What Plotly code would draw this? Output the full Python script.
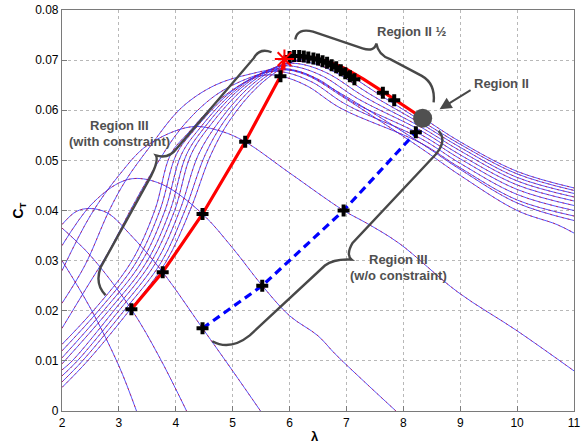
import plotly.graph_objects as go

# ---------------- data ----------------
# family of C_T(lambda) curves, low pitch (k0) -> higher pitch
bundle_lam = [
    [2.0, 2.45, 3.18, 3.82, 4.25, 4.62, 4.95, 5.45, 5.95, 6.25, 6.55, 7.0, 7.6, 8.34, 9.0, 10.0, 11.0],
    [2.0, 2.36, 3.09, 3.74, 4.16, 4.52, 4.85, 5.35, 5.85, 6.15, 6.45, 6.9, 7.5, 8.3, 9.0, 10.0, 11.0],
    [2.0, 2.27, 3.0, 3.65, 4.07, 4.40, 4.75, 5.25, 5.75, 6.05, 6.35, 6.8, 7.4, 8.3, 9.0, 10.0, 11.0],
    [2.0, 2.18, 2.91, 3.56, 3.98, 4.27, 4.62, 5.15, 5.65, 5.95, 6.25, 6.7, 7.3, 8.3, 9.0, 10.0, 11.0],
    [2.0, 2.82, 3.48, 3.90, 4.19, 4.52, 5.05, 5.55, 5.85, 6.15, 6.6, 7.2, 8.3, 9.0, 10.0, 11.0],
    [2.0, 2.73, 3.39, 3.81, 4.10, 4.42, 4.95, 5.45, 5.75, 6.05, 6.5, 7.1, 8.3, 9.0, 10.0, 11.0],
    [2.0, 2.64, 3.30, 3.72, 4.01, 4.32, 4.85, 5.35, 5.65, 5.95, 6.4, 7.0, 8.3, 9.0, 10.0, 11.0],
    [2.0, 2.55, 3.21, 3.63, 3.91, 4.22, 4.75, 5.25, 5.55, 5.85, 6.3, 6.9, 8.3, 9.0, 10.0, 11.0],
    [2.0, 2.4, 2.83, 3.2, 3.6, 4.1, 4.7, 5.3, 5.8, 6.2, 6.8, 8.3, 9.0, 10.0, 11.0],
    [2.0, 2.4, 2.83, 3.12, 3.53, 4.1, 4.69, 5.3, 5.84, 6.3, 7.0, 8.3, 9.0, 10.0, 10.7, 11.0],
]
bundle_ct = [
    [0.0047, 0.0100, 0.0200, 0.0296, 0.0400, 0.0512, 0.0580, 0.0648, 0.0690, 0.0704, 0.0703, 0.0683, 0.0641, 0.0585, 0.0537, 0.0478, 0.0445],
    [0.0058, 0.0100, 0.0200, 0.0296, 0.0400, 0.0512, 0.0578, 0.0645, 0.0687, 0.0700, 0.0699, 0.0680, 0.0637, 0.0580, 0.0532, 0.0473, 0.0440],
    [0.0070, 0.0100, 0.0200, 0.0296, 0.0400, 0.0512, 0.0576, 0.0642, 0.0684, 0.0697, 0.0695, 0.0676, 0.0633, 0.0574, 0.0526, 0.0466, 0.0434],
    [0.0082, 0.0100, 0.0200, 0.0296, 0.0400, 0.0512, 0.0572, 0.0639, 0.0680, 0.0693, 0.0691, 0.0672, 0.0628, 0.0567, 0.0519, 0.0459, 0.0427],
    [0.0094, 0.0200, 0.0296, 0.0400, 0.0512, 0.0568, 0.0635, 0.0676, 0.0688, 0.0686, 0.0667, 0.0623, 0.0560, 0.0511, 0.0451, 0.0419],
    [0.0106, 0.0200, 0.0296, 0.0400, 0.0512, 0.0564, 0.0630, 0.0671, 0.0683, 0.0681, 0.0662, 0.0617, 0.0552, 0.0503, 0.0442, 0.0410],
    [0.0120, 0.0200, 0.0296, 0.0400, 0.0512, 0.0560, 0.0625, 0.0665, 0.0677, 0.0675, 0.0656, 0.0611, 0.0544, 0.0494, 0.0432, 0.0400],
    [0.0133, 0.0200, 0.0296, 0.0400, 0.0512, 0.0555, 0.0619, 0.0658, 0.0670, 0.0668, 0.0649, 0.0604, 0.0535, 0.0485, 0.0421, 0.0389],
    [0.0165, 0.0240, 0.0320, 0.0400, 0.0480, 0.0565, 0.0630, 0.0665, 0.0680, 0.0676, 0.0640, 0.0535, 0.0482, 0.0415, 0.0380],
    [0.0215, 0.0290, 0.0400, 0.0460, 0.0525, 0.0605, 0.0650, 0.0672, 0.0682, 0.0670, 0.0622, 0.0525, 0.0470, 0.0400, 0.0372, 0.0355],
]
# high-pitch curves that fall off to zero
desc_lam = [
    [2.0, 2.5, 3.0, 3.31],
    [2.0, 2.5, 3.22, 3.7, 4.19],
    [2.0, 2.25, 2.49, 2.8, 3.2, 3.77, 4.47, 5.0, 5.49],
    [2.0, 2.5, 3.0, 3.32, 3.8, 4.47, 5.0, 5.52, 6.0, 6.5, 6.8, 7.3, 7.87],
    [2.0, 2.5, 3.0, 3.5, 4.27, 4.8, 5.22, 6.0, 6.95, 7.35, 7.92, 8.96, 10.0, 11.0],
]
desc_ct = [
    [0.0300, 0.0205, 0.0090, 0.0],
    [0.0365, 0.0310, 0.0203, 0.0110, 0.0],
    [0.0372, 0.0398, 0.0404, 0.0395, 0.0352, 0.0277, 0.0165, 0.0080, 0.0],
    [0.0330, 0.0410, 0.0455, 0.0464, 0.0450, 0.0393, 0.0325, 0.0250, 0.0190, 0.0150, 0.0114, 0.0060, 0.0],
    [0.0280, 0.0390, 0.0470, 0.0530, 0.0567, 0.0558, 0.0537, 0.0475, 0.0400, 0.0375, 0.0335, 0.0237, 0.0160, 0.0080],
]
# constrained trajectory (red)
red_lam = [3.22, 3.77, 4.47, 5.22, 5.84, 5.91, 6.0, 6.2, 6.5, 6.8, 7.0, 7.3, 7.6, 8.0, 8.34]
red_ct = [0.0203, 0.0277, 0.0393, 0.0537, 0.0668, 0.0702, 0.0706, 0.0708, 0.0703, 0.0692, 0.0682, 0.0662, 0.0640, 0.0610, 0.0584]
# unconstrained trajectory (blue dashed)
blue_lam = [4.47, 5.52, 6.95, 8.22, 8.34]
blue_ct = [0.0165, 0.0250, 0.0400, 0.0556, 0.0584]
# black + markers
plus_lam = [3.22, 3.77, 4.47, 5.22, 5.84, 6.0, 6.08, 6.17, 6.25, 6.33, 6.42, 6.5, 6.58, 6.66, 6.74, 6.82,
            6.9, 6.98, 7.06, 7.14, 7.64, 7.84, 4.47, 5.52, 6.95, 8.22]
plus_ct = [0.0203, 0.0277, 0.0393, 0.0537, 0.0668, 0.0706, 0.0708, 0.0708, 0.0707, 0.0705, 0.0703, 0.0701,
           0.0698, 0.0695, 0.0690, 0.0686, 0.0680, 0.0674, 0.0668, 0.0662, 0.0635, 0.0620, 0.0165, 0.0250,
           0.0400, 0.0556]
star_lam = [5.91]
star_ct = [0.0702]
dot_lam = [8.34]
dot_ct = [0.0584]

x_ticks = [2, 3, 4, 5, 6, 7, 8, 9, 10, 11]
y_ticks = [0, 0.01, 0.02, 0.03, 0.04, 0.05, 0.06, 0.07, 0.08]

# ---------------- figure ----------------
W, H = 584, 448
ML, MR, MT, MB = 62, 4, 3, 37
X0, X1, Y0, Y1 = 2, 11, 0, 0.08
PW, PH = W - ML - MR, H - MT - MB


def P(px, py):
    """pixel (page) -> data coordinates, for decorations only"""
    return X0 + (px - ML) / PW * (X1 - X0), Y0 + (H - MB - py) / PH * (Y1 - Y0)


def path(cmds):
    out = []
    for c in cmds:
        op, pts = c[0], c[1:]
        s = " ".join("%.5f,%.6f" % P(*p) for p in pts)
        out.append(op + " " + s)
    return " ".join(out)


fig = go.Figure()

for lams, cts in list(zip(bundle_lam, bundle_ct)) + list(zip(desc_lam, desc_ct)):
    fig.add_trace(go.Scatter(x=lams, y=cts, mode="lines", line=dict(color="#2a2aff", width=0.8, shape="spline", smoothing=1.0),
                             hoverinfo="skip", showlegend=False))
    fig.add_trace(go.Scatter(x=lams, y=cts, mode="lines", line=dict(color="rgba(240,0,0,0.8)", width=0.8, shape="spline",
                                                                    smoothing=1.0, dash="2px,4px"),
                             hoverinfo="skip", showlegend=False))

fig.add_trace(go.Scatter(x=red_lam, y=red_ct, mode="lines", line=dict(color="#ff0000", width=3.2),
                         showlegend=False))
fig.add_trace(go.Scatter(x=blue_lam, y=blue_ct, mode="lines", line=dict(color="#0000ff", width=3.2, dash="8px,5px"),
                         showlegend=False))
fig.add_trace(go.Scatter(x=plus_lam, y=plus_ct, mode="markers",
                         marker=dict(symbol="cross", size=10, color="black"), showlegend=False))
fig.add_trace(go.Scatter(x=star_lam, y=star_ct, mode="markers",
                         marker=dict(symbol="asterisk-open", size=16, color="red", line=dict(color="red", width=2)),
                         showlegend=False))
fig.add_trace(go.Scatter(x=dot_lam, y=dot_ct, mode="markers",
                         marker=dict(symbol="circle", size=19, color="#505050"), showlegend=False))

brace_col = "#484848"
braces = [
    # Region III (with constraint)
    [("M", (106, 293)), ("Q", (95, 282), (101, 265)), ("L", (152, 172)), ("Q", (160, 156), (157, 151)),
     ("Q", (170, 155), (178, 144)), ("L", (256, 52)), ("Q", (262, 41), (274, 46))],
    # Region II 1/2
    [("M", (298, 33)), ("Q", (300, 21), (316, 25)), ("L", (366, 42)), ("Q", (378, 46), (380, 37)),
     ("Q", (382, 49), (394, 53)), ("L", (426, 70)), ("Q", (440, 78), (438, 97))],
    # Region III (w/o constraint)
    [("M", (214, 340)), ("Q", (232, 350), (252, 334)), ("L", (328, 263)), ("Q", (337, 256), (355, 257)),
     ("Q", (349, 252), (356, 240)), ("L", (440, 150)), ("Q", (452, 136), (443, 126))],
]
shapes = [dict(type="path", xref="x", yref="y", path=path(b), line=dict(color=brace_col, width=2.4),
               fillcolor="rgba(0,0,0,0)") for b in braces]

afont = dict(family="Liberation Sans, Arial, sans-serif", size=13, color="#505050")
ann = []
for txt, (px, py) in [("<b>Region II ½</b>", (416, 25)), ("<b>Region II</b>", (507, 78)),
                      ("<b>Region III</b>", (120, 121)), ("<b>(with constraint)</b>", (120, 137)),
                      ("<b>Region III</b>", (402, 257)), ("<b>(w/o constraint)</b>", (402, 273))]:
    x, y = P(px, py)
    ann.append(dict(x=x, y=y, xref="x", yref="y", text=txt, showarrow=False, font=afont))
hx, hy = P(444, 104)
ann.append(dict(x=hx, y=hy, xref="x", yref="y", ax=34, ay=-21, text=" ", showarrow=True,
                arrowhead=2, arrowsize=1.2, arrowwidth=2, arrowcolor=brace_col))
# x-axis title (lambda) placed in paper coordinates below the axis
ann.append(dict(x=(318 - ML) / PW, y=-(437 - (H - MB)) / PH, xref="paper", yref="paper", text="<b>λ</b>",
                showarrow=False, font=dict(family="Liberation Sans, Arial", size=13, color="black"),
                yanchor="middle", xanchor="center"))

axis_common = dict(showgrid=True, gridcolor="#b8b8b8", griddash="dot", gridwidth=1,
                   showline=True, linecolor="#7a7a7a", linewidth=1.2, mirror=True,
                   ticks="inside", ticklen=5, tickcolor="#7a7a7a", zeroline=False,
                   ticklabeloverflow="allow",
                   tickfont=dict(family="Liberation Sans, Arial", size=12, color="black"))
fig.update_layout(
    width=W, height=H, margin=dict(l=ML, r=MR, t=MT, b=MB),
    paper_bgcolor="white", plot_bgcolor="white",
    xaxis=dict(range=[X0, X1], tickvals=x_ticks, **axis_common),
    yaxis=dict(range=[Y0, Y1], tickvals=y_ticks, ticktext=[("%g" % v) for v in y_ticks],
               title=dict(text="<b>C<sub>T</sub></b>", font=dict(family="Liberation Sans, Arial", size=14, color="black"),
                          standoff=8), **axis_common),
    shapes=shapes, annotations=ann,
)
fig.write_html("out.html")
